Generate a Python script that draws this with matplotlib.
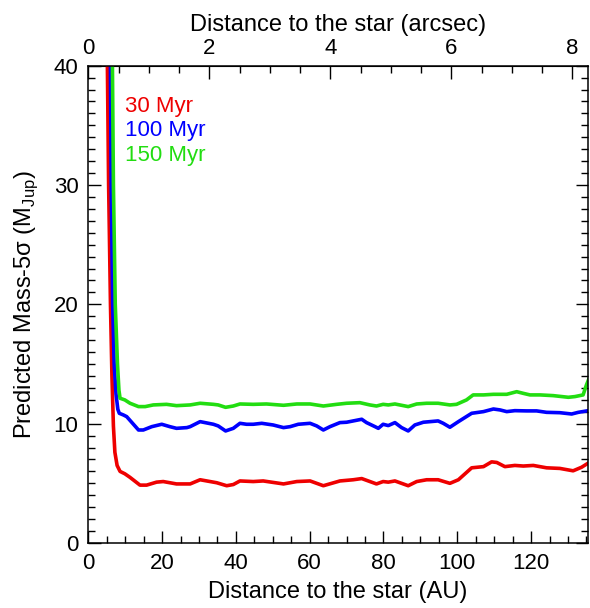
import numpy as np
import matplotlib
matplotlib.use('Agg')
import matplotlib.pyplot as plt
from matplotlib.ticker import MultipleLocator, FixedLocator

plt.rcParams['font.family'] = ['Liberation Sans', 'DejaVu Sans']
plt.rcParams['mathtext.fontset'] = 'custom'
plt.rcParams['mathtext.rm'] = 'Liberation Sans'

# ==========================================
# DATA
# ==========================================
au_30 = [5.0, 5.5, 6.0, 6.4, 6.8, 7.2, 7.8, 8.6, 9.9, 11.3, 14.0, 15.8, 18.5, 20.3, 23.9, 27.6,
         30.3, 34.8, 37.5, 39.3, 41.1, 44.7, 47.4, 52.9, 56.5, 60.1, 63.7, 68.2, 71.8, 74.1,
         78.1, 79.9, 81.3, 83.1, 86.7, 89.0, 91.7, 94.8, 98.0, 100.3, 103.9, 107.1, 109.3,
         110.7, 112.9, 115.6, 117.9, 120.6, 124.2, 127.8, 131.4, 133.7, 135.5]
mass_30 = [45, 30, 20, 14, 9.8, 7.6, 6.5, 6.0, 5.8, 5.5, 4.85, 4.85, 5.1, 5.15, 4.95, 4.95,
           5.3, 5.05, 4.8, 4.9, 5.2, 5.15, 5.2, 4.95, 5.15, 5.2, 4.8, 5.2, 5.3, 5.4,
           4.95, 5.15, 5.1, 5.2, 4.8, 5.15, 5.3, 5.3, 5.0, 5.3, 6.3, 6.4, 6.8,
           6.75, 6.4, 6.5, 6.45, 6.5, 6.3, 6.25, 6.05, 6.35, 6.7]

au_100 = [5.9, 6.2, 6.6, 7.0, 7.5, 8.0, 8.4, 9.5, 10.4, 13.6, 14.9, 17.2, 19.9, 22.1, 23.9,
          26.7, 27.6, 30.3, 33.9, 35.2, 37.2, 39.3, 41.1, 42.9, 44.7, 47.0, 50.1, 52.9,
          54.7, 56.9, 60.1, 61.9, 63.7, 65.5, 68.2, 70.0, 72.3, 74.1, 75.4, 77.7, 78.6,
          79.9, 81.3, 83.1, 84.9, 86.7, 88.5, 90.8, 94.8, 96.2, 98.0, 100.3, 103.9, 107.1,
          109.8, 111.6, 113.4, 115.6, 118.8, 121.5, 124.2, 127.8, 131.0, 132.8, 135.5]
mass_100 = [45, 30, 20, 15, 12.5, 11.2, 10.87, 10.73, 10.59, 9.47, 9.47, 9.75, 9.95, 9.75, 9.61,
            9.67, 9.75, 10.17, 9.95, 9.81, 9.39, 9.61, 10.03, 9.95, 9.95, 10.03, 9.89, 9.67,
            9.75, 9.95, 10.03, 9.81, 9.47, 9.75, 10.09, 10.12, 10.26, 10.37, 10.09, 9.75, 9.61,
            9.95, 9.84, 10.09, 9.67, 9.39, 9.89, 10.12, 10.23, 10.03, 9.70, 10.17, 10.87, 11.01,
            11.23, 11.15, 11.01, 11.09, 11.07, 11.07, 10.95, 10.92, 10.81, 10.95, 11.09]

au_150 = [6.4, 6.8, 7.3, 7.9, 8.3, 8.6, 9.9, 11.3, 13.6, 15.4, 17.6, 21.2, 23.9, 27.6, 30.3,
          33.9, 35.2, 37.2, 39.3, 41.1, 44.7, 48.3, 52.9, 56.5, 60.1, 63.7, 67.3, 70.0, 73.6,
          76.3, 78.1, 79.9, 81.3, 83.1, 86.7, 89.0, 91.7, 94.8, 98.0, 99.8, 102.5, 104.3,
          107.1, 109.8, 113.4, 116.1, 117.9, 119.7, 122.4, 126.0, 130.1, 131.9, 134.1, 135.0,
          135.6]
mass_150 = [45, 30, 20, 15, 12.8, 12.13, 11.99, 11.71, 11.43, 11.43, 11.57, 11.62, 11.51, 11.57, 11.71,
            11.62, 11.57, 11.37, 11.48, 11.65, 11.62, 11.65, 11.54, 11.65, 11.65, 11.48, 11.62, 11.71, 11.76,
            11.57, 11.48, 11.62, 11.57, 11.65, 11.43, 11.65, 11.71, 11.71, 11.57, 11.62, 11.99, 12.41,
            12.41, 12.46, 12.46, 12.68, 12.54, 12.41, 12.41, 12.35, 12.21, 12.27, 12.41, 13.24,
            13.7]

labels = ['30 Myr', '100 Myr', '150 Myr']
colors = ['#ee0000', '#0000ff', '#22dd11']
arcsec_ticks = [0, 2, 4, 6, 8]
dist_pc = 16.4  # AU per arcsec

# ==========================================
# PLOT
# ==========================================
fig = plt.figure(figsize=(5.9, 6.08), dpi=100)
ax = fig.add_axes([0.1497, 0.1069, 0.8461, 0.7851])

series = [(au_30, mass_30), (au_100, mass_100), (au_150, mass_150)]
for (x, y), c in zip(series, colors):
    ax.plot(x, y, color=c, lw=2.6, solid_joinstyle='round')

ax.set_xlim(0, 135.3)
ax.set_ylim(0, 40)

ax.xaxis.set_major_locator(MultipleLocator(20))
ax.xaxis.set_minor_locator(MultipleLocator(5))
ax.yaxis.set_major_locator(MultipleLocator(10))
ax.yaxis.set_minor_locator(MultipleLocator(1))
ax.tick_params(which='both', direction='in', right=True, top=False, labelsize=16, width=1)
ax.tick_params(which='major', length=9, pad=7)
ax.tick_params(which='minor', length=5)
for s in ax.spines.values():
    s.set_linewidth(1.1)

ax.set_xlabel('Distance to the star (AU)', fontsize=17, labelpad=5)
ax.set_ylabel('Predicted Mass-5σ (M$_{\\mathrm{Jup}}$)', fontsize=17, labelpad=10)

sec = ax.secondary_xaxis('top', functions=(lambda a: a / dist_pc, lambda s: s * dist_pc))
sec.xaxis.set_major_locator(FixedLocator(arcsec_ticks))
sec.xaxis.set_minor_locator(FixedLocator([t + 0.5 * k for t in arcsec_ticks for k in (1, 2, 3)]))
sec.tick_params(which='both', direction='in', labelsize=16, width=1)
sec.tick_params(which='major', length=9, pad=5)
sec.tick_params(which='minor', length=5)
sec.set_xlabel('Distance to the star (arcsec)', fontsize=17, labelpad=5)

for i, (lab, c) in enumerate(zip(labels, colors)):
    ax.text(10.0, 36.6 - 2.05 * i, lab, color=c, fontsize=16, va='center', ha='left')

plt.savefig('out.png', dpi=100)
